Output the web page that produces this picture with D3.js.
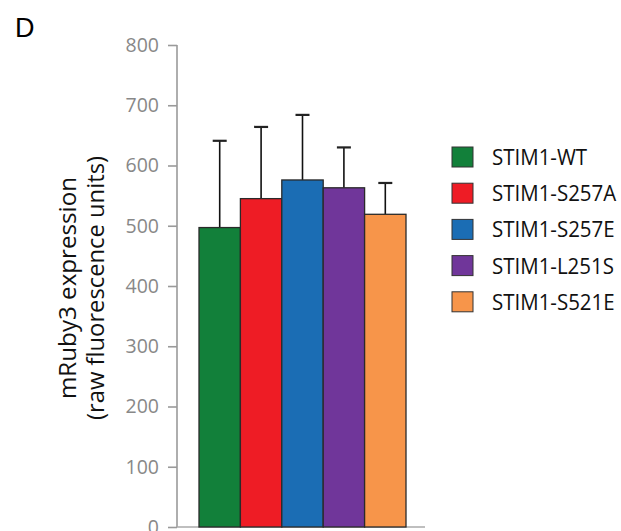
<!DOCTYPE html>
<html><head><meta charset="utf-8">
<script src="https://cdn.jsdelivr.net/npm/d3@7"></script>
<style>body{margin:0;background:#fff}svg{display:block}</style>
</head><body>
<svg id="c" width="621" height="531"></svg>
<script>
const categories = ["STIM1-WT","STIM1-S257A","STIM1-S257E","STIM1-L251S","STIM1-S521E"];
const means = [497, 545, 576, 563, 519];
const errTops = [641, 664, 684, 630, 571];
const colors = ["#12803a","#ee1c25","#1b6db4","#70369a","#f7954a"];
const yTicks = [0,100,200,300,400,500,600,700,800];

const svg = d3.select("#c");
const F = "'Open Sans', sans-serif";
const y = d3.scaleLinear().domain([0,800]).range([527,45]);
const x = d3.scaleBand().domain(categories).range([199,406]).padding(0);
const axisX = 177;

// y axis
const ya = svg.append("g").attr("transform",`translate(${axisX},0)`)
  .call(d3.axisLeft(y).tickValues(yTicks).tickSize(9).tickPadding(9));
ya.select(".domain").attr("stroke","#9a9a9a").attr("stroke-width",1.6).attr("d",`M0,${y(800)}H0V${y(0)}`);
ya.selectAll(".tick line").attr("stroke","#9a9a9a").attr("stroke-width",1.6);
ya.selectAll(".tick text").attr("fill","#888").style("font-family",F).style("font-size","19.5px").style("font-weight","500");

// x axis baseline
svg.append("line").attr("x1",axisX).attr("x2",425).attr("y1",y(0)).attr("y2",y(0))
  .attr("stroke","#aaaaaa").attr("stroke-width",1.4);

// error bars
const eb = svg.append("g");
categories.forEach((c,i)=>{
  const cx = x(c)+x.bandwidth()/2;
  eb.append("line").attr("x1",cx).attr("x2",cx).attr("y1",y(means[i])).attr("y2",y(errTops[i]))
    .attr("stroke","#111").attr("stroke-width",1.6);
  eb.append("line").attr("x1",cx-7).attr("x2",cx+7).attr("y1",y(errTops[i])).attr("y2",y(errTops[i]))
    .attr("stroke","#222").attr("stroke-width",2.2);
});

// bars
svg.append("g").selectAll("rect").data(categories).join("rect")
  .attr("x",d=>x(d)).attr("width",x.bandwidth())
  .attr("y",(d,i)=>y(means[i])).attr("height",(d,i)=>y(0)-y(means[i]))
  .attr("fill",(d,i)=>colors[i]).attr("stroke","#2a2a2a").attr("stroke-width",1.3);

// y title
const tg = svg.append("g").attr("transform","translate(0,288) rotate(-90)");
const t1 = tg.append("text").attr("x",0).attr("y",76).attr("text-anchor","middle")
  .style("font-family",F).style("font-size","23px").style("font-weight","500").attr("fill","#111").text("mRuby3 expression");
const t2 = tg.append("text").attr("x",0).attr("y",104).attr("text-anchor","middle")
  .style("font-family",F).style("font-size","23px").style("font-weight","500").attr("fill","#111").text("(raw fluorescence units)");
function fit(sel, w){ const n=sel.node(); const L=n.getComputedTextLength(); if(Math.abs(L-w)>2) sel.attr("textLength",w).attr("lengthAdjust","spacingAndGlyphs"); }
fit(t1,222); fit(t2,264);

// panel label
svg.append("text").attr("x",15).attr("y",37).style("font-family","'Liberation Sans', Arial, sans-serif")
  .style("font-size","27px").attr("fill","#000").text("D");

// legend
const lg = svg.append("g").selectAll("g").data(categories).join("g")
  .attr("transform",(d,i)=>`translate(452,${147+i*36.2})`);
lg.append("rect").attr("width",21).attr("height",20).attr("fill",(d,i)=>colors[i])
  .attr("stroke","#333").attr("stroke-width",1);
const lt = lg.append("g").attr("class","lt").append("text").attr("x",0).attr("y",18)
  .style("font-family",F).style("font-size","21px")
  .style("font-weight","500").attr("fill","#111").text(d=>d);
// stretch legend texts horizontally so the widest matches the reference width
let maxL = 0; lt.each(function(){ maxL = Math.max(maxL, this.getBBox().width); });
const k = maxL > 0 ? 125 / maxL : 1;
lg.selectAll("g.lt").attr("transform",`translate(40,0) scale(${k},1)`);
</script>
</body></html>
